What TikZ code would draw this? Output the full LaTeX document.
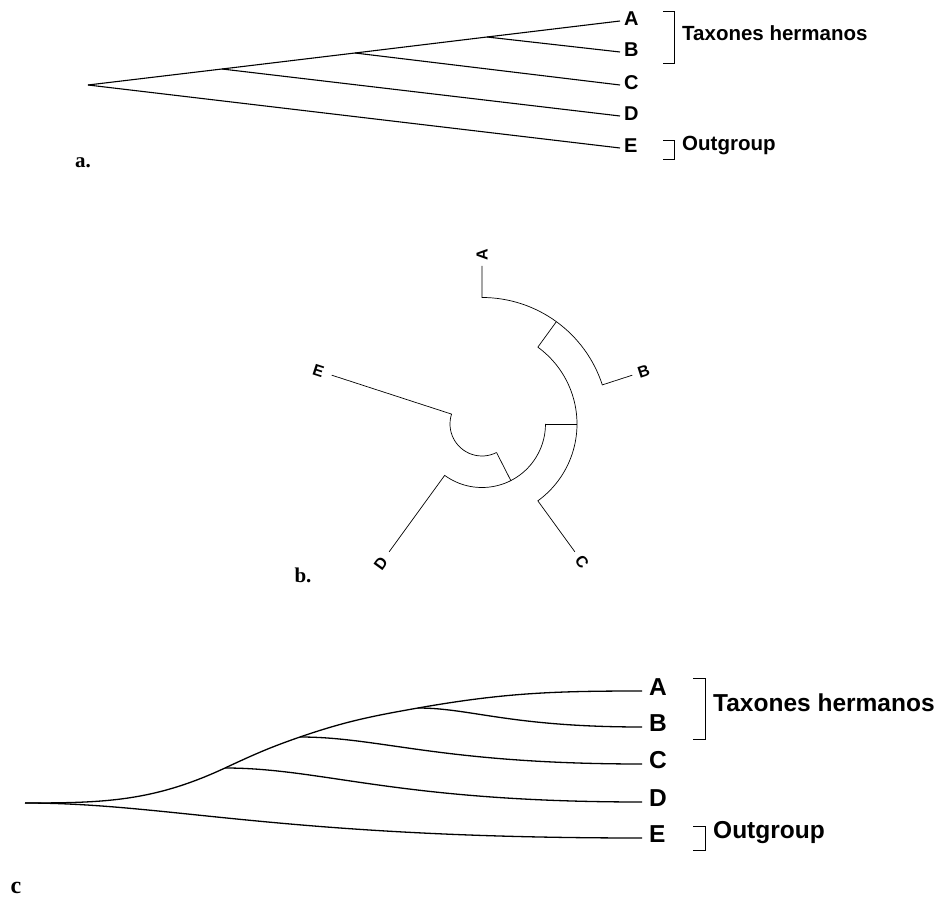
\documentclass[tikz,border=0pt]{standalone}
\usepackage{fontspec}
\setmainfont{Liberation Sans}
\newfontfamily\panelfont{Liberation Serif}

\begin{document}
\begin{tikzpicture}[
	x=1pt,
	y=1pt,
	taxa/.style={font=\fontsize{20}{24}\selectfont\bfseries,inner xsep=4pt,anchor=base west},
	taxc/.style={font=\fontsize{24.5}{29}\selectfont\bfseries,inner xsep=7pt,anchor=base west},
	taxb/.style={font=\fontsize{16}{19}\selectfont\bfseries,inner sep=0pt},
	grpa/.style={font=\fontsize{20.5}{25}\selectfont\bfseries,inner sep=0pt,anchor=west},
	grpc/.style={font=\fontsize{24.5}{29}\selectfont\bfseries,inner sep=0pt,anchor=west},
	panel/.style={font=\panelfont\fontsize{21}{25}\selectfont\bfseries,inner sep=0pt},
	br/.style={line width=0.9pt},
	la/.style={line width=1.1pt},
	lc/.style={line width=1.3pt},
	sig/.style={out=0,in=180,out looseness=0.6,in looseness=1.5}
	]
	\useasboundingbox (0,0) rectangle (939,898);

	\coordinate (R1) at (88,813);
	\coordinate (R2) at (222,829);
	\coordinate (R3) at (355,845);
	\coordinate (R4) at (487,861);
	\node[taxa] (TA) at (620,872.5) {A};
	\node[taxa] (TB) at (620,841.5) {B};
	\node[taxa] (TC) at (620,808.5) {C};
	\node[taxa] (TD) at (620,777.5) {D};
	\node[taxa] (TE) at (620,745.5) {E};
	\draw[la] (R1) -- (R2) -- (R3) -- (R4) -- ([yshift=4.5pt]TA.base west);
	\draw[la] (R4) -- ([yshift=4.5pt]TB.base west);
	\draw[la] (R3) -- ([yshift=4.5pt]TC.base west);
	\draw[la] (R2) -- ([yshift=4.5pt]TD.base west);
	\draw[la] (R1) -- ([yshift=4.5pt]TE.base west);
	\draw[br] (663,887) -| (674,835) -- (663,835);
	\draw[br] (663,758) -| (674,739) -- (663,739);
	\node[grpa] (GA1) at (682,865) {Taxones hermanos};
	\node[grpa] (GA2) at (682,752) {Outgroup};
	\node[panel] (PA) at (83,735) {a.};

	\begin{scope}[shift={(482,474)},line width=0.7pt]
		\draw (90:158) -- (90:126.5) arc[start angle=90,end angle=18,radius=126.5] -- (18:158);
		\draw (54:126.5) -- (54:95);
		\draw (-54:158) -- (-54:95) arc[start angle=-54,end angle=54,radius=95];
		\draw (0:95) -- (0:63.5);
		\draw (234:158) -- (234:63.5) arc[start angle=234,end angle=360,radius=63.5];
		\draw (297:63.5) -- (297:32);
		\draw (162:158) -- (162:32) arc[start angle=162,end angle=297,radius=32];
		\node[taxb,rotate=90] (LA) at (90:169) {A};
		\node[taxb,rotate=18] (LB) at (18:170) {B};
		\node[taxb,rotate=-54] (LC) at (-54:170) {C};
		\node[taxb,rotate=54] (LD) at (234:172) {D};
		\node[taxb,rotate=-18] (LE) at (162:172) {E};
	\end{scope}
	\node[panel] (PB) at (303,323) {b.};

	\coordinate (S1) at (25,95);
	\coordinate (S2) at (225,130);
	\coordinate (S3) at (300,161);
	\coordinate (S4) at (418,190);
	\node[taxc] (UA) at (642,203) {A};
	\node[taxc] (UB) at (642,167) {B};
	\node[taxc] (UC) at (642,130) {C};
	\node[taxc] (UD) at (642,92) {D};
	\node[taxc] (UE) at (642,56) {E};
	\draw[lc] (S1) to[out=0,in=205] (S2) to[out=25,in=199] (S3) to[out=19,in=190] (S4) to[out=10,in=180] ([yshift=4pt]UA.base west);
	\draw[lc] (S4) to[sig] ([yshift=4pt]UB.base west);
	\draw[lc] (S3) to[sig] ([yshift=4pt]UC.base west);
	\draw[lc] (S2) to[sig] ([yshift=4pt]UD.base west);
	\draw[lc] (S1) to[sig] ([yshift=4pt]UE.base west);
	\draw[br] (693,220) -| (705,159) -- (693,159);
	\draw[br] (693,72) -| (705,48) -- (693,48);
	\node[grpc] (GC1) at (713,195) {Taxones hermanos};
	\node[grpc] (GC2) at (713,65) {Outgroup};
	\node[panel,font=\panelfont\fontsize{24}{28}\selectfont\bfseries] (PC) at (16,10) {c};
\end{tikzpicture}
\end{document}
